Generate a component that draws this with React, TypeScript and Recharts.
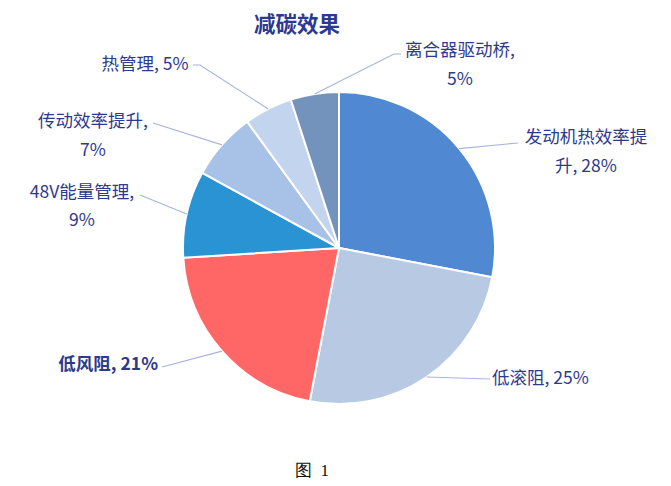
import { PieChart, Pie, Cell } from "recharts";

const CATEGORIES = ["发动机热效率提升", "低滚阻", "低风阻", "48V能量管理", "传动效率提升", "热管理", "离合器驱动桥"];
const VALUES = [28, 25, 21, 9, 7, 5, 5];
const COLORS = ["#5088D2", "#B8C9E3", "#FF6666", "#2A93D4", "#A8C1E7", "#C3D4EE", "#7393BD"];

// label layout: text lines, anchor point, leader end (Excel-style placement)
const LABELS = [
  { lines: ["发动机热效率提", "升, 28%"], x: 586, y: [135, 164], anchor: "middle", end: [[518, 143]], bold: false },
  { lines: ["低滚阻, 25%"], x: 492, y: [376], anchor: "start", end: [[490, 379]], bold: false },
  { lines: ["低风阻, 21%"], x: 158, y: [362], anchor: "end", end: [[162, 367]], bold: true },
  { lines: ["48V能量管理,", "9%"], x: 82, y: [190, 218], anchor: "middle", end: [[140, 195]], bold: false },
  { lines: ["传动效率提升,", "7%"], x: 93, y: [119, 148], anchor: "middle", end: [[153, 123]], bold: false },
  { lines: ["热管理, 5%"], x: 145, y: [62], anchor: "middle", end: [[200, 65], [193, 65]], bold: false },
  { lines: ["离合器驱动桥,", "5%"], x: 460, y: [48, 77], anchor: "middle", end: [[394, 54], [401, 54]], bold: false },
];

const data = CATEGORIES.map((name, i) => ({ name, value: VALUES[i] }));

const TEXT = "#2E3A8C";
const FONT = "'Noto Sans CJK SC', 'Noto Sans', sans-serif";

const renderLabel = (props: any) => {
  const { cx, cy, midAngle, outerRadius, index } = props;
  const rad = (Math.PI / 180) * midAngle;
  const sx = cx + outerRadius * Math.cos(rad);
  const sy = cy - outerRadius * Math.sin(rad);
  const l = LABELS[index];
  const pts = [[sx, sy], ...l.end].map((p) => p.join(",")).join(" ");
  return (
    <g key={`lbl-${index}`}>
      <polyline points={pts} fill="none" stroke="#A9B3E0" strokeWidth={1.2} />
      {l.lines.map((t, j) => (
        <text
          key={j}
          x={l.x}
          y={l.y[j]}
          textAnchor={l.anchor as any}
          dominantBaseline="central"
          fill={TEXT}
          fontSize={17.5}
          fontWeight={l.bold ? 700 : 400}
          fontFamily={FONT}
        >
          {t}
        </text>
      ))}
    </g>
  );
};

export default function App() {
  return (
    <div style={{ position: "absolute", left: 0, top: 0, width: 671, height: 486, background: "#fff" }}>
      <div
        style={{
          position: "absolute", left: 0, width: 594, top: 7, textAlign: "center",
          fontFamily: FONT, fontWeight: 700, fontSize: 21.5, color: "#2B3990",
        }}
      >
        减碳效果
      </div>
      <PieChart width={671} height={486} margin={{ top: 0, right: 0, bottom: 0, left: 0 }}>
        <Pie
          data={data}
          dataKey="value"
          nameKey="name"
          cx={339}
          cy={248}
          outerRadius={156}
          startAngle={90}
          endAngle={-270}
          stroke="#fff"
          strokeWidth={2}
          label={renderLabel}
          labelLine={false}
          isAnimationActive={false}
        >
          {data.map((_, i) => (
            <Cell key={i} fill={COLORS[i]} />
          ))}
        </Pie>
      </PieChart>
      <div
        style={{
          position: "absolute", left: 0, width: 624, top: 459, textAlign: "center",
          fontFamily: "'Liberation Serif', serif", fontSize: 17, color: "#111",
        }}
      >
        图&nbsp;&nbsp;1
      </div>
    </div>
  );
}
